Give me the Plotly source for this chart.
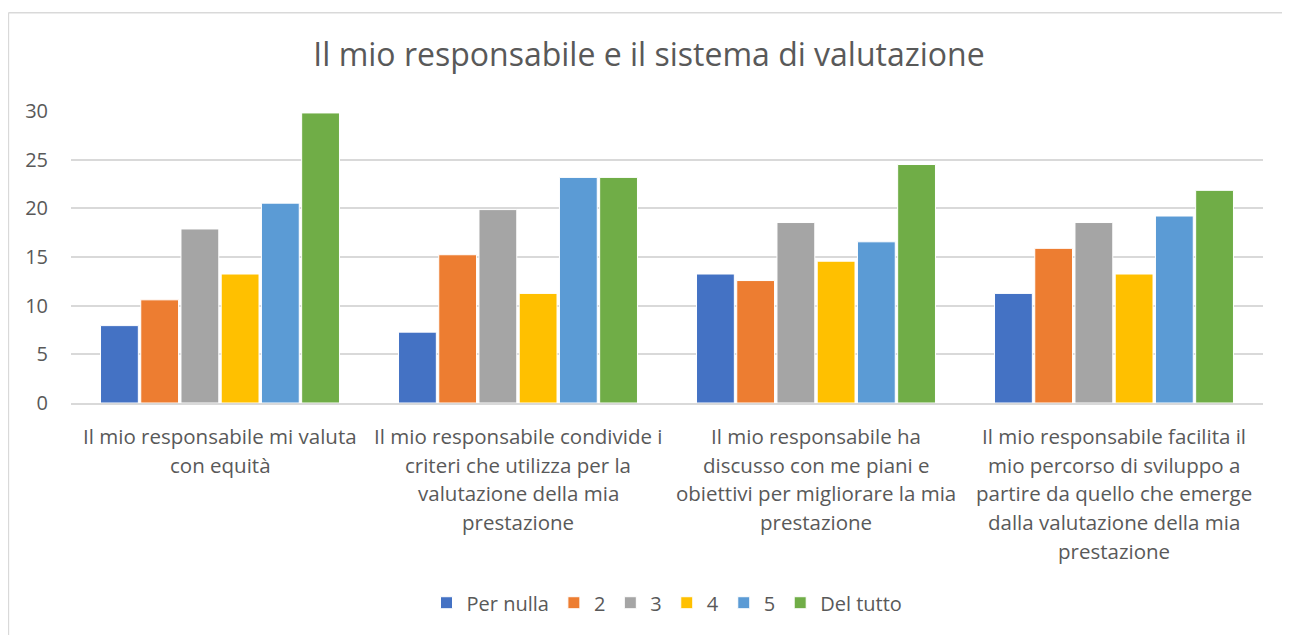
import plotly.graph_objects as go

categories = ["cat1", "cat2", "cat3", "cat4"]
category_lines = [
    ["Il mio responsabile mi valuta", "con equità"],
    ["Il mio responsabile condivide i", "criteri che utilizza per la", "valutazione della mia", "prestazione"],
    ["Il mio responsabile ha", "discusso con me piani e", "obiettivi per migliorare la mia", "prestazione"],
    ["Il mio responsabile facilita il", "mio percorso di sviluppo a", "partire da quello che emerge", "dalla valutazione della mia", "prestazione"],
]
series_names = ["Per nulla", "2", "3", "4", "5", "Del tutto"]
per_nulla = [7.95, 7.28, 13.25, 11.26]
val_2 = [10.60, 15.23, 12.58, 15.89]
val_3 = [17.88, 19.87, 18.54, 18.54]
val_4 = [13.25, 11.26, 14.57, 13.25]
val_5 = [20.53, 23.18, 16.56, 19.21]
del_tutto = [29.80, 23.18, 24.50, 21.85]
series_values = [per_nulla, val_2, val_3, val_4, val_5, del_tutto]
colors = ["#4472C4", "#ED7D31", "#A5A5A5", "#FFC000", "#5B9BD5", "#70AD47"]
y_ticks = [0, 5, 10, 15, 20, 25, 30]

FONT = "Open Sans"
TXT = "#595959"

fig = go.Figure()
for name, vals, col in zip(series_names, series_values, colors):
    fig.add_trace(go.Bar(
        x=categories, y=vals, name=name,
        marker=dict(color=col, line=dict(color="white", width=1)),
    ))

annotations = []
for cat, lines in zip(categories, category_lines):
    for i, line in enumerate(lines):
        annotations.append(dict(
            x=cat, xref="x", y=0, yref="y", text=line, showarrow=False,
            yanchor="middle", xanchor="center", yshift=-(33 + i * 28.7),
            font=dict(family=FONT, size=20.5, color=TXT),
        ))

W, H = 1282, 627
fig.update_layout(
    width=W, height=H,
    margin=dict(l=63, r=27, t=103, b=230),
    paper_bgcolor="white", plot_bgcolor="white",
    barmode="group", bargap=0.19, bargroupgap=0.06,
    title=dict(text="Il mio responsabile e il sistema di valutazione",
               x=0.5, xanchor="center", y=1 - 47 / H, yanchor="middle",
               font=dict(family=FONT, size=32, color=TXT)),
    font=dict(family=FONT, size=20, color=TXT),
    showlegend=True,
    legend=dict(orientation="h", x=0.5, xanchor="center", y=-0.684, yanchor="middle",
                font=dict(family=FONT, size=20, color=TXT), itemwidth=30,
                traceorder="normal"),
    annotations=annotations,
    shapes=[
        dict(type="line", xref="paper", yref="paper", x0=-0.0525, x1=1.1, y0=1.3367, y1=1.3367,
             line=dict(color="#D9D9D9", width=1.5)),
        dict(type="line", xref="paper", yref="paper", x0=-0.0525, x1=-0.0525, y0=-1.0, y1=1.3367,
             line=dict(color="#D9D9D9", width=1.5)),
    ],
)
fig.update_xaxes(showticklabels=False, showgrid=False, showline=True, linecolor="#D9D9D9",
                 linewidth=1.5, ticks="", zeroline=False)
fig.update_yaxes(range=[0, 30], tickvals=y_ticks, showgrid=True, gridcolor="#D9D9D9",
                 gridwidth=1.5, zeroline=False, showline=False, ticks="",
                 tickfont=dict(family=FONT, size=20, color=TXT), ticklabelstandoff=22)

fig.write_html("out.html")
